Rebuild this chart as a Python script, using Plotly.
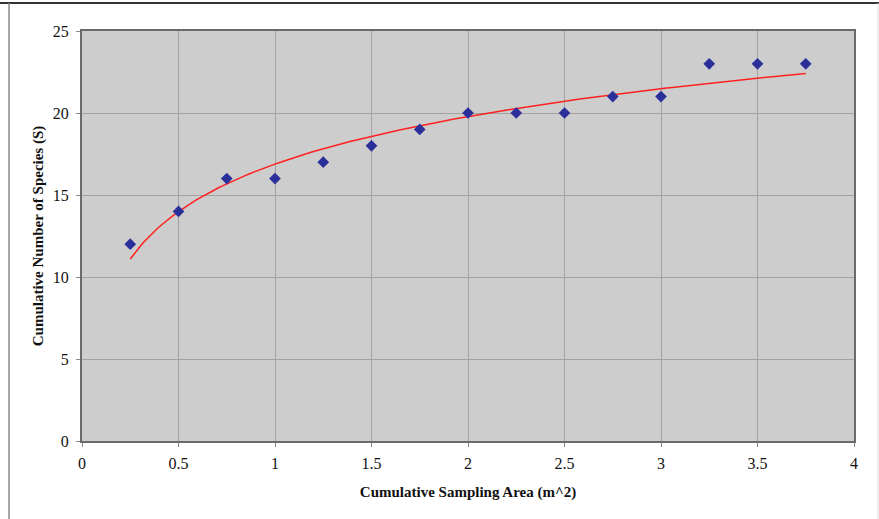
import numpy as np
import plotly.graph_objects as go

area = [0.25, 0.5, 0.75, 1.0, 1.25, 1.5, 1.75, 2.0, 2.25, 2.5, 2.75, 3.0, 3.25, 3.5, 3.75]
species = [12, 14, 16, 16, 17, 18, 19, 20, 20, 20, 21, 21, 23, 23, 23]

x_ticks = [0, 0.5, 1, 1.5, 2, 2.5, 3, 3.5, 4]
x_tick_labels = ["0", "0.5", "1", "1.5", "2", "2.5", "3", "3.5", "4"]
y_ticks = [0, 5, 10, 15, 20, 25]

# logarithmic trendline fitted to the data (as the spreadsheet did)
b, a = np.polyfit(np.log(area), species, 1)
xf = np.linspace(min(area), max(area), 200)
yf = a + b * np.log(xf)

fig = go.Figure()
fig.add_trace(go.Scatter(x=xf, y=yf, mode="lines",
                         line=dict(color="#ff2020", width=1.5), hoverinfo="skip"))
fig.add_trace(go.Scatter(x=area, y=species, mode="markers",
                         marker=dict(symbol="diamond", size=9, color="#2b2f9a")))

W, H = 879, 519
L, R, T, B = 82, 25, 31, 78
pw, ph = W - L - R, H - T - B

def px(xp):
    return (xp - L) / pw

def py(yp):
    return (H - B - yp) / ph

font = "Liberation Serif, Times New Roman, serif"
fig.update_layout(
    width=W, height=H,
    margin=dict(l=L, r=R, t=T, b=B),
    paper_bgcolor="white",
    plot_bgcolor="#cdcdcd",
    showlegend=False,
    font=dict(family=font, size=16, color="#111"),
    shapes=[
        dict(type="line", xref="paper", yref="paper", x0=px(0), x1=px(W), y0=py(3), y1=py(3),
             line=dict(color="#333", width=2)),
        dict(type="line", xref="paper", yref="paper", x0=px(9), x1=px(9), y0=py(3), y1=py(H),
             line=dict(color="#888", width=1.5)),
        dict(type="line", xref="paper", yref="paper", x0=px(878), x1=px(878), y0=py(3), y1=py(H),
             line=dict(color="#ddd", width=1)),
    ],
)
fig.update_xaxes(
    range=[0, 4], tickvals=x_ticks, ticktext=x_tick_labels,
    showgrid=True, gridcolor="#a2a2a2", gridwidth=1, zeroline=False,
    showline=True, linecolor="#6a6a6a", linewidth=2, mirror=True,
    ticks="outside", ticklen=4, tickcolor="#888", ticklabelstandoff=3,
    tickfont=dict(family=font, size=16, color="#111"),
    title=dict(text="<b>Cumulative Sampling Area (m^2)</b>", font=dict(family=font, size=15), standoff=15),
)
fig.update_yaxes(
    range=[0, 25], tickvals=y_ticks,
    showgrid=True, gridcolor="#a2a2a2", gridwidth=1, zeroline=False,
    showline=True, linecolor="#6a6a6a", linewidth=2, mirror=True,
    ticks="outside", ticklen=4, tickcolor="#888", ticklabelstandoff=4,
    tickfont=dict(family=font, size=16, color="#111"),
    title=dict(text="<b>Cumulative Number of Species (S)</b>", font=dict(family=font, size=15), standoff=6),
)

fig.write_html("out.html")
